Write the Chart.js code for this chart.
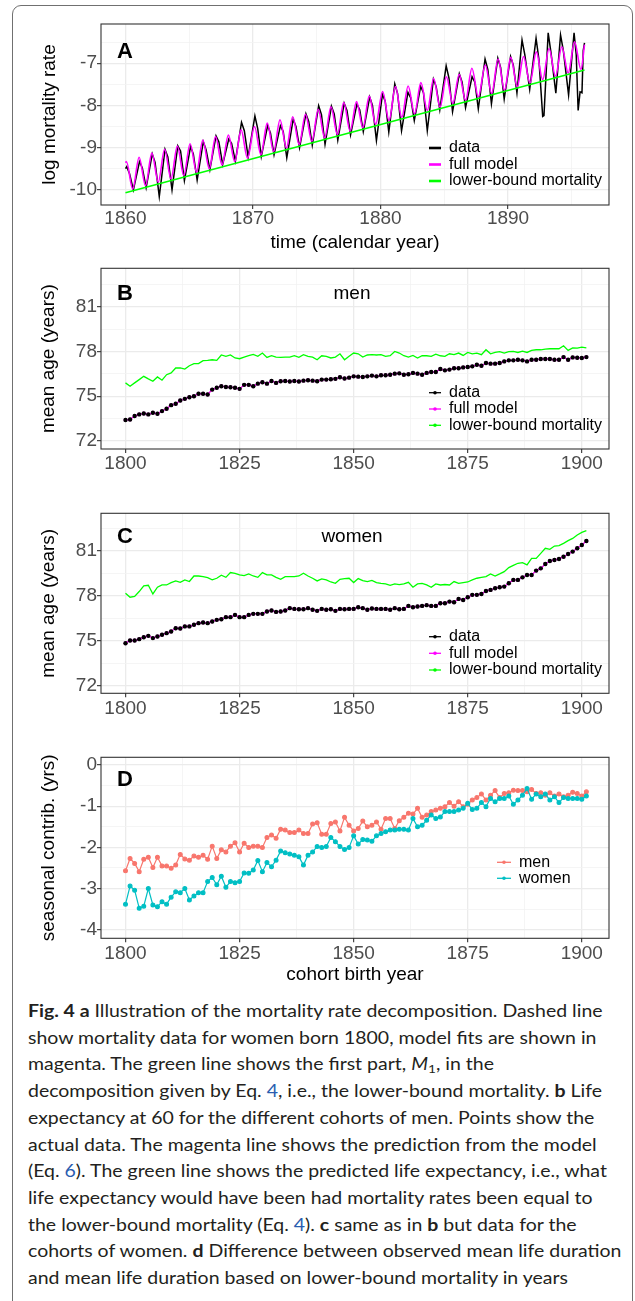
<!DOCTYPE html>
<html><head><meta charset="utf-8">
<script src="https://cdn.jsdelivr.net/npm/chart.js@4.4.1/dist/chart.umd.min.js"></script>
<style>
html,body{margin:0;padding:0;background:#fff;}
#page{position:relative;width:635px;height:1301px;overflow:hidden;background:#fff;}
#card{position:absolute;left:12px;top:5px;width:621px;height:1400px;border:1.5px solid #707070;border-radius:9px;box-sizing:border-box;}
canvas{position:absolute;left:0;}
#cap{position:absolute;left:28px;top:998px;font-family:Lato,'Open Sans',sans-serif;font-size:16.5px;line-height:26.7px;color:#231F20;transform-origin:0 0;}
.ln{white-space:nowrap;width:max-content;}
.lk{color:#2a5db0;}
sub{font-size:0.7em;line-height:0;vertical-align:-0.25em;}
</style></head>
<body>
<div id="page">
<div id="card"></div>
<canvas id="cA" width="635" height="262" style="top:0px"></canvas>
<canvas id="cB" width="635" height="215" style="top:260px"></canvas>
<canvas id="cC" width="635" height="220" style="top:500px"></canvas>
<canvas id="cD" width="635" height="250" style="top:740px"></canvas>
<div id="cap">
<div class="ln"><b>Fig. 4 a</b> Illustration of the mortality rate decomposition. Dashed line</div>
<div class="ln">show mortality data for women born 1800, model fits are shown in</div>
<div class="ln">magenta. The green line shows the first part, <i>M</i><sub>1</sub>, in the</div>
<div class="ln">decomposition given by Eq. <span class="lk">4</span>, i.e., the lower-bound mortality. <b>b</b> Life</div>
<div class="ln">expectancy at 60 for the different cohorts of men. Points show the</div>
<div class="ln">actual data. The magenta line shows the prediction from the model</div>
<div class="ln">(Eq. <span class="lk">6</span>). The green line shows the predicted life expectancy, i.e., what</div>
<div class="ln">life expectancy would have been had mortality rates been equal to</div>
<div class="ln">the lower-bound mortality (Eq. <span class="lk">4</span>). <b>c</b> same as in <b>b</b> but data for the</div>
<div class="ln">cohorts of women. <b>d</b> Difference between observed mean life duration</div>
<div class="ln">and mean life duration based on lower-bound mortality in years</div>
</div>
</div>
<script>
// ---------------- Panel A data ----------------
const aDataT = [1860.00,
1860.10,1860.32,1860.62, 1861.10,1861.32,1861.62, 1862.10,1862.32,1862.65, 1863.10,1863.32,1863.65,
1864.10,1864.32,1864.62, 1865.10,1865.32,1865.62, 1866.10,1866.32,1866.62, 1867.10,1867.32,1867.62,
1868.10,1868.32,1868.62, 1869.10,1869.32,1869.62, 1870.15,1870.37,1870.65, 1871.15,1871.37,1871.65,
1872.15,1872.37,1872.65, 1873.15,1873.37,1873.65, 1874.15,1874.37,1874.65, 1875.15,1875.37,1875.65,
1876.15,1876.37,1876.65, 1877.15,1877.37,1877.65, 1878.15,1878.37,1878.65, 1879.15,1879.37,1879.68,
1880.15,1880.37,1880.65, 1881.12,1881.34,1881.65, 1882.15,1882.37,1882.65, 1883.15,1883.37,1883.67,
1884.15,1884.37,1884.65, 1885.15,1885.37,1885.65, 1886.18,1886.40,1886.67, 1887.18,1887.40,1887.67,
1888.20,1888.42,1888.70, 1889.20,1889.42,1889.70, 1890.20,1890.42,1890.70, 1891.10,1891.32,1891.70,
1892.20,1892.42,1892.72,1892.82, 1893.15,1893.37,1893.75, 1894.12,1894.34,1894.75,
1895.18,1895.35,1895.50,1895.65,1895.80,1895.90,1896.00];
const aDataV = [-9.50,
-9.45,-9.62,-10.00, -9.33,-9.48,-9.95, -9.15,-9.35,-10.16, -9.04,-9.22,-10.00,
-8.96,-9.08,-9.78, -8.98,-9.15,-9.77, -8.86,-9.05,-9.52, -8.72,-8.86,-9.40,
-8.80,-8.90,-9.32, -8.40,-8.60,-9.22, -8.25,-8.55,-9.21, -8.48,-8.65,-9.17,
-8.48,-8.62,-9.24, -8.33,-8.50,-9.00, -8.20,-8.38,-8.94, -8.01,-8.22,-8.92,
-8.02,-8.20,-8.82, -7.95,-8.12,-8.70, -7.97,-8.10,-8.62, -7.80,-8.00,-8.83,
-7.74,-7.90,-8.63, -7.49,-7.72,-8.60, -7.69,-7.82,-8.36, -7.55,-7.70,-8.60,
-7.38,-7.56,-8.10, -7.06,-7.35,-8.15, -7.25,-7.45,-8.05, -7.32,-7.45,-8.08,
-6.90,-7.15,-7.96, -6.88,-7.10,-7.85, -6.84,-7.05,-7.70, -6.45,-6.80,-7.62,
-6.41,-6.90,-8.26,-8.24, -6.28,-6.75,-7.71, -6.33,-6.70,-7.75,
-6.28,-6.80,-8.12,-7.68,-7.70,-6.70,-6.52];
const aModelT = [1860.00, 1860.07,1860.57, 1861.07,1861.57, 1862.07,1862.57, 1863.07,1863.57, 1864.07,1864.57,
1865.07,1865.57, 1866.07,1866.57, 1867.07,1867.57, 1868.07,1868.57, 1869.07,1869.57, 1870.12,1870.62,
1871.12,1871.62, 1872.12,1872.62, 1873.12,1873.62, 1874.12,1874.62, 1875.12,1875.62, 1876.12,1876.62,
1877.12,1877.62, 1878.12,1878.62, 1879.12,1879.62, 1880.17,1880.67, 1881.17,1881.67, 1882.17,1882.67,
1883.17,1883.67, 1884.17,1884.67, 1885.17,1885.67, 1886.17,1886.67, 1887.17,1887.67, 1888.22,1888.72,
1889.22,1889.72, 1890.22,1890.72, 1891.22,1891.72, 1892.22,1892.72, 1893.22,1893.72, 1894.22,1894.72,
1895.22,1895.72, 1896.00];
const aModelV = [-9.36, -9.33,-9.98, -9.23,-9.90, -9.13,-9.82, -9.04,-9.74, -8.96,-9.66,
-8.91,-9.58, -8.82,-9.50, -8.74,-9.41, -8.70,-9.33, -8.58,-9.25, -8.50,-9.17,
-8.42,-9.09, -8.34,-9.01, -8.27,-8.93, -8.21,-8.85, -8.09,-8.77, -8.03,-8.69,
-7.93,-8.61, -7.91,-8.53, -7.78,-8.45, -7.67,-8.36, -7.55,-8.28, -7.54,-8.20,
-7.46,-8.12, -7.36,-8.04, -7.32,-7.96, -7.26,-7.88, -7.12,-7.80, -7.04,-7.72,
-6.90,-7.64, -6.86,-7.56, -6.84,-7.47, -6.73,-7.39, -6.65,-7.31, -6.61,-7.23,
-6.49,-7.15, -6.56];
const aLowerT = [1860.0, 1896.0];
const aLowerV = [-10.07, -7.16];

const aXTicks = [1860,1865,1870,1875,1880,1885,1890,1895];
const aXMajor = [1860,1870,1880,1890];
const aXLabels = ['1860','1870','1880','1890'];
const aYTicks = [-10,-9.5,-9,-8.5,-8,-7.5,-7,-6.5];
const aYMajor = [-10,-9,-8,-7];
const aYLabels = ['-10','-9','-8','-7'];

// ---------------- Cohort panels ----------------
const cohortYears = [1800,1801,1802,1803,1804,1805,1806,1807,1808,1809,1810,1811,1812,1813,1814,1815,1816,1817,1818,1819,
1820,1821,1822,1823,1824,1825,1826,1827,1828,1829,1830,1831,1832,1833,1834,1835,1836,1837,1838,1839,
1840,1841,1842,1843,1844,1845,1846,1847,1848,1849,1850,1851,1852,1853,1854,1855,1856,1857,1858,1859,
1860,1861,1862,1863,1864,1865,1866,1867,1868,1869,1870,1871,1872,1873,1874,1875,1876,1877,1878,1879,
1880,1881,1882,1883,1884,1885,1886,1887,1888,1889,1890,1891,1892,1893,1894,1895,1896,1897,1898,1899,1900,1901];

const menData = [73.40,73.44,73.67,73.78,73.84,73.78,73.89,73.82,74.00,74.16, 74.40,74.49,74.71,74.82,74.93,75.00,75.16,75.16,75.11,75.44,
75.56,75.67,75.62,75.60,75.56,75.49,75.76,75.76,75.67,75.84, 75.93,75.84,76.02,75.89,76.00,76.02,75.98,76.02,75.98,76.04,
76.07,76.04,76.00,76.11,76.11,76.13,76.16,76.27,76.18,76.24, 76.33,76.31,76.29,76.33,76.38,76.33,76.40,76.40,76.44,76.51,
76.53,76.44,76.47,76.56,76.51,76.44,76.56,76.62,76.62,76.82, 76.73,76.78,76.87,76.87,76.93,76.96,77.00,77.11,77.04,77.22,
77.18,77.18,77.22,77.33,77.40,77.40,77.44,77.40,77.33,77.44, 77.44,77.49,77.49,77.49,77.44,77.44,77.62,77.44,77.60,77.58,
77.56,77.62];
const menModel = [73.40,73.44,73.67,73.78,73.84,73.78,73.89,73.82,74.00,74.16, 74.40,74.49,74.71,74.82,74.93,75.00,75.16,75.16,75.11,75.44,
75.56,75.67,75.62,75.60,75.56,75.49,75.76,75.76,75.67,75.84, 75.93,75.84,76.02,75.89,76.00,76.02,75.98,76.02,75.98,76.04,
76.07,76.04,76.00,76.11,76.11,76.13,76.16,76.27,76.18,76.24, 76.33,76.31,76.29,76.33,76.38,76.33,76.40,76.40,76.44,76.51,
76.53,76.44,76.47,76.56,76.51,76.44,76.56,76.62,76.62,76.82, 76.73,76.78,76.87,76.87,76.93,76.96,77.00,77.11,77.04,77.22,
77.18,77.18,77.22,77.33,77.40,77.40,77.44,77.40,77.33,77.44, 77.44,77.49,77.49,77.49,77.44,77.44,77.62,77.44,77.60,77.58,
77.56,77.62];
const menLower = [75.89,75.67,75.89,76.11,76.33,76.16,76.00,76.29,76.07,76.44, 76.56,76.89,76.89,76.82,77.04,77.18,77.18,77.38,77.40,77.44,
77.40,77.76,77.67,77.76,77.56,77.51,77.62,77.71,77.80,77.67, 77.89,77.60,77.71,77.62,77.60,77.62,77.62,77.71,77.60,77.78,
77.67,77.62,77.44,77.71,77.67,77.56,77.62,77.84,77.44,77.67, 77.89,77.84,77.62,77.76,77.78,77.76,77.78,77.67,77.71,78.00,
77.89,77.71,77.62,77.73,77.56,77.71,77.71,77.67,77.82,77.71, 77.67,77.84,77.78,77.89,77.73,77.93,77.84,77.89,77.78,78.11,
77.84,77.93,77.98,77.89,77.98,78.00,77.93,78.02,77.93,78.07, 78.11,78.11,78.16,78.18,78.18,78.18,78.38,78.07,78.24,78.22,
78.29,78.24];

const womenData = [74.84,75.02,75.02,75.11,75.24,75.33,75.18,75.29,75.40,75.51, 75.62,75.84,75.82,75.96,75.96,76.07,76.18,76.22,76.18,76.29,
76.40,76.44,76.58,76.58,76.73,76.58,76.58,76.73,76.80,76.80, 76.80,76.96,77.02,76.93,76.96,77.02,77.18,77.13,77.11,77.11,
77.18,77.07,77.00,77.13,77.07,77.11,77.00,77.13,77.11,77.13, 77.13,77.24,77.18,77.07,77.16,77.13,77.13,77.13,77.07,77.18,
77.11,77.13,77.33,77.24,77.29,77.33,77.38,77.33,77.33,77.51, 77.51,77.62,77.58,77.80,77.73,77.91,78.07,78.07,78.13,78.33,
78.40,78.51,78.58,78.62,78.84,79.07,79.07,79.24,79.40,79.40, 79.69,79.84,80.13,80.33,80.40,80.47,80.62,80.80,80.96,81.18,
81.40,81.67];
const womenModel = [74.84,75.02,75.02,75.11,75.24,75.33,75.18,75.29,75.40,75.51, 75.62,75.84,75.82,75.96,75.96,76.07,76.18,76.22,76.18,76.29,
76.40,76.44,76.58,76.58,76.73,76.58,76.58,76.73,76.80,76.80, 76.80,76.96,77.02,76.93,76.96,77.02,77.18,77.13,77.11,77.11,
77.18,77.07,77.00,77.13,77.07,77.11,77.00,77.13,77.11,77.13, 77.13,77.24,77.18,77.07,77.16,77.13,77.13,77.13,77.07,77.18,
77.11,77.13,77.33,77.24,77.29,77.33,77.38,77.33,77.33,77.51, 77.51,77.62,77.58,77.80,77.73,77.91,78.07,78.07,78.13,78.33,
78.40,78.51,78.58,78.62,78.84,79.07,79.07,79.24,79.40,79.40, 79.69,79.84,80.13,80.33,80.40,80.47,80.62,80.80,80.96,81.18,
81.40,81.67];
const womenLower = [78.18,77.91,77.96,78.29,78.67,78.71,78.13,78.58,78.73,78.73, 78.89,79.00,78.91,79.07,78.96,79.33,79.33,79.29,79.22,79.07,
79.18,79.38,79.24,79.56,79.51,79.40,79.36,79.47,79.33,79.24, 79.56,79.40,79.40,79.24,79.11,79.29,79.29,79.29,79.33,79.51,
79.33,79.18,79.00,79.13,79.07,78.93,78.84,79.11,79.16,79.18, 78.89,79.16,79.02,78.96,79.04,78.89,78.84,78.80,78.71,78.80,
78.76,78.80,78.91,78.58,78.80,78.84,78.73,78.58,78.80,78.73, 78.76,78.73,78.96,78.84,78.89,78.93,79.07,79.18,79.24,79.29,
79.47,79.33,79.47,79.62,79.89,80.04,80.18,80.22,80.07,80.51, 80.51,80.84,81.18,81.11,81.33,81.36,81.51,81.69,81.84,82.07,
82.24,82.36];

const seasMen = [-2.57,-2.27,-2.39,-2.59,-2.29,-2.24,-2.49,-2.24,-2.45,-2.45, -2.51,-2.43,-2.17,-2.28,-2.31,-2.21,-2.24,-2.19,-2.29,-1.97,
-2.27,-2.06,-2.11,-1.97,-1.89,-2.11,-1.90,-2.00,-1.97,-1.97, -2.00,-1.76,-1.70,-1.78,-1.56,-1.58,-1.64,-1.64,-1.58,-1.66,
-1.66,-1.43,-1.40,-1.68,-1.68,-1.42,-1.38,-1.60,-1.27,-1.46, -1.60,-1.54,-1.36,-1.50,-1.46,-1.38,-1.56,-1.30,-1.30,-1.54,
-1.35,-1.27,-1.17,-1.19,-1.05,-1.27,-1.21,-1.13,-1.09,-1.05, -1.01,-0.91,-1.00,-0.89,-1.01,-0.95,-0.85,-0.79,-0.70,-0.85,
-0.73,-0.62,-0.79,-0.69,-0.67,-0.61,-0.62,-0.62,-0.65,-0.59, -0.69,-0.67,-0.73,-0.67,-0.75,-0.70,-0.77,-0.73,-0.66,-0.69,
-0.75,-0.65];
const seasWomen = [-3.38,-2.94,-3.04,-3.48,-3.43,-3.00,-3.40,-3.44,-3.32,-3.38, -3.21,-3.08,-3.10,-3.00,-3.28,-3.18,-3.10,-3.10,-2.83,-2.73,
-2.91,-2.70,-2.97,-2.83,-2.86,-2.83,-2.62,-2.63,-2.55,-2.32, -2.59,-2.37,-2.47,-2.31,-2.09,-2.13,-2.16,-2.19,-2.23,-2.43,
-2.19,-2.11,-1.98,-2.00,-1.98,-1.76,-1.86,-1.98,-2.05,-2.00, -1.72,-1.92,-1.81,-1.82,-1.85,-1.72,-1.66,-1.62,-1.58,-1.58,
-1.56,-1.56,-1.58,-1.30,-1.50,-1.46,-1.34,-1.21,-1.30,-1.26, -1.13,-1.13,-1.13,-1.09,-1.05,-0.93,-1.08,-1.05,-0.91,-1.01,
-0.81,-0.89,-0.81,-0.81,-0.75,-0.95,-0.85,-0.73,-0.57,-0.83, -0.70,-0.77,-0.70,-0.85,-0.77,-0.91,-0.79,-0.81,-0.81,-0.81,
-0.83,-0.75];

const cXTicks = [1800,1812.5,1825,1837.5,1850,1862.5,1875,1887.5,1900];
const cXMajor = [1800,1825,1850,1875,1900];
const cXLabels = ['1800','1825','1850','1875','1900'];
const ageYTicks = [72,73.5,75,76.5,78,79.5,81,82.5];
const ageYMajor = [72,75,78,81];
const ageYLabels = ['72','75','78','81'];
const sYTicks = [-4,-3.5,-3,-2.5,-2,-1.5,-1,-0.5,0];
const sYMajor = [-4,-3,-2,-1,0];
const sYLabels = ['-4','-3','-2','-1','0'];

// ---------------- helpers ----------------
const FONT = "'Liberation Sans', Arial, Helvetica, sans-serif";
Chart.defaults.font.family = FONT;
const zip = (xs, ys) => xs.map((x, i) => ({x: x, y: ys[i]}));

const decorPlugin = {
  id: 'decor',
  afterDatasetsDraw(chart, args, o) {
    if (!o || !o.letter) return;
    const ctx = chart.ctx, ca = chart.chartArea;
    ctx.save();
    ctx.strokeStyle = '#333333'; ctx.lineWidth = 1.1;
    ctx.strokeRect(ca.left, ca.top, ca.right - ca.left, ca.bottom - ca.top);
    ctx.fillStyle = '#000'; ctx.textAlign = 'left'; ctx.textBaseline = 'alphabetic';
    ctx.font = 'bold 22px ' + FONT;
    ctx.fillText(o.letter, o.letterX, o.letterY);
    if (o.sub) { ctx.font = '19px ' + FONT; ctx.textAlign = 'center'; ctx.fillText(o.sub, o.subX, o.subY); }
    const L = o.legend;
    L.order.forEach((di, i) => {
      const ds = chart.data.datasets[di];
      const y = L.rows[i];
      ctx.strokeStyle = ds.borderColor === 'transparent' ? ds.pointBackgroundColor : (ds.legendColor || ds.borderColor);
      ctx.lineWidth = L.lw;
      ctx.beginPath(); ctx.moveTo(L.x0, y); ctx.lineTo(L.x1, y); ctx.stroke();
      if (L.pr) { ctx.fillStyle = ds.legendColor || ds.borderColor; ctx.beginPath(); ctx.arc((L.x0 + L.x1) / 2, y, L.pr, 0, Math.PI * 2); ctx.fill(); }
      ctx.fillStyle = '#000'; ctx.font = '16px ' + FONT; ctx.textAlign = 'left'; ctx.textBaseline = 'middle';
      ctx.fillText(ds.label, L.tx, y);
    });
    ctx.restore();
  }
};
Chart.register(decorPlugin);

function axis(c) {
  // c: {ticks, major, labels, min, max, fit, title, titlePad, tickPad, horizontal}
  const isMajor = v => c.major.indexOf(v) >= 0;
  const ax = {
    type: 'linear', min: c.min, max: c.max,
    afterBuildTicks: s => { s.ticks = c.ticks.map(v => ({value: v})); },
    ticks: {
      autoSkip: false, maxRotation: 0, minRotation: 0, padding: c.tickPad,
      color: '#4D4D4D', font: {size: 19, lineHeight: 1},
      callback: v => { const i = c.major.indexOf(v); return i >= 0 ? c.labels[i] : ''; }
    },
    grid: {
      color: ctx => (ctx.tick && isMajor(ctx.tick.value)) ? '#EBEBEB' : '#F3F3F3',
      lineWidth: ctx => (ctx.tick && isMajor(ctx.tick.value)) ? 1.3 : 0.8,
      tickColor: ctx => (ctx.tick && isMajor(ctx.tick.value)) ? '#333333' : 'rgba(0,0,0,0)',
      tickLength: 4, tickWidth: 1.1, drawTicks: true, drawOnChartArea: true
    },
    border: {display: false},
    title: c.title ? {display: true, text: c.title, color: '#000', font: {size: 19, lineHeight: 1}, padding: c.titlePad} : {display: false},
    afterFit: s => {
      if (c.horizontal) { s.height = c.fit; s.paddingLeft = 0; s.paddingRight = 0; }
      else { s.width = c.fit; s.paddingTop = 0; s.paddingBottom = 0; }
    }
  };
  return ax;
}

function make(id, cfg) {
  return new Chart(document.getElementById(id), {
    type: 'line',
    data: {datasets: cfg.datasets},
    options: {
      responsive: false, animation: false, devicePixelRatio: 1,
      layout: {padding: {top: cfg.padTop, right: 26, left: 0, bottom: 0}},
      parsing: true,
      plugins: {legend: {display: false}, tooltip: {enabled: false}, decor: cfg.decor},
      scales: {x: cfg.x, y: cfg.y},
      elements: {point: {borderWidth: 0}}
    }
  });
}

// ---------------- Panel A ----------------
make('cA', {
  padTop: 24,
  x: axis({ticks: aXTicks, major: aXMajor, labels: aXLabels, min: 1858.08, max: 1897.92, fit: 57, horizontal: true,
            title: 'time (calendar year)', titlePad: {top: 0, bottom: 9.5}, tickPad: 0}),
  y: axis({ticks: aYTicks, major: aYMajor, labels: aYLabels, min: -10.36, max: -6.07, fit: 101,
            title: 'log mortality rate', titlePad: {top: 40.5, bottom: 0}, tickPad: 0}),
  datasets: [
    {label: 'lower-bound mortality', data: zip(aLowerT, aLowerV), borderColor: '#00FF00', borderWidth: 1.6, pointRadius: 0, order: 0},
    {label: 'full model', data: zip(aModelT, aModelV), borderColor: '#FF00FF', borderWidth: 1.6, pointRadius: 0, cubicInterpolationMode: 'monotone', order: 1},
    {label: 'data', data: zip(aDataT, aDataV), borderColor: '#000000', borderWidth: 1.5, pointRadius: 0, tension: 0, order: 2}
  ],
  decor: {letter: 'A', letterX: 117, letterY: 58.3,
          legend: {order: [2, 1, 0], rows: [148, 164.5, 181], x0: 429, x1: 441, tx: 449, lw: 2.6, pr: 0}}
});

// ---------------- Panel B ----------------
make('cB', {
  padTop: 8.3,
  x: axis({ticks: cXTicks, major: cXMajor, labels: cXLabels, min: 1794.63, max: 1905.96, fit: 26, horizontal: true, tickPad: 1.5}),
  y: axis({ticks: ageYTicks, major: ageYMajor, labels: ageYLabels, min: 71.46, max: 83.57, fit: 101,
            title: 'mean age (years)', titlePad: {top: 39.5, bottom: 0}, tickPad: 0}),
  datasets: [
    {label: 'data', data: zip(cohortYears, menData), borderColor: '#000000', legendColor: '#000000', showLine: false, pointRadius: 2.2, pointBackgroundColor: '#000000', order: 0},
    {label: 'full model', data: zip(cohortYears, menModel), borderColor: '#FF00FF', borderWidth: 1.3, pointRadius: 1.3, pointBackgroundColor: '#FF00FF', tension: 0, order: 1},
    {label: 'lower-bound mortality', data: zip(cohortYears, menLower), borderColor: '#00FF00', borderWidth: 1.3, pointRadius: 0, tension: 0, order: 2}
  ],
  decor: {letter: 'B', letterX: 117, letterY: 40, sub: 'men', subX: 352, subY: 38.5,
          legend: {order: [0, 1, 2], rows: [132.7, 149, 165.3], x0: 429, x1: 441, tx: 449, lw: 1.3, pr: 1.8}}
});

// ---------------- Panel C ----------------
make('cC', {
  padTop: 13.3,
  x: axis({ticks: cXTicks, major: cXMajor, labels: cXLabels, min: 1794.63, max: 1905.96, fit: 26.7, horizontal: true, tickPad: 1.5}),
  y: axis({ticks: ageYTicks, major: ageYMajor, labels: ageYLabels, min: 71.49, max: 83.52, fit: 101,
            title: 'mean age (years)', titlePad: {top: 39.5, bottom: 0}, tickPad: 0}),
  datasets: [
    {label: 'data', data: zip(cohortYears, womenData), borderColor: '#000000', legendColor: '#000000', showLine: false, pointRadius: 2.2, pointBackgroundColor: '#000000', order: 0},
    {label: 'full model', data: zip(cohortYears, womenModel), borderColor: '#FF00FF', borderWidth: 1.3, pointRadius: 1.3, pointBackgroundColor: '#FF00FF', tension: 0, order: 1},
    {label: 'lower-bound mortality', data: zip(cohortYears, womenLower), borderColor: '#00FF00', borderWidth: 1.3, pointRadius: 0, tension: 0, order: 2}
  ],
  decor: {letter: 'C', letterX: 117, letterY: 43.3, sub: 'women', subX: 352, subY: 42,
          legend: {order: [0, 1, 2], rows: [136.7, 153.3, 170], x0: 429, x1: 441, tx: 449, lw: 1.3, pr: 1.8}}
});

// ---------------- Panel D ----------------
make('cD', {
  padTop: 17.3,
  x: axis({ticks: cXTicks, major: cXMajor, labels: cXLabels, min: 1794.63, max: 1905.96, fit: 51.7, horizontal: true,
            title: 'cohort birth year', titlePad: {top: 0, bottom: 5.5}, tickPad: 1.5}),
  y: axis({ticks: sYTicks, major: sYMajor, labels: sYLabels, min: -4.21, max: 0.19, fit: 101,
            title: 'seasonal contrib. (yrs)', titlePad: {top: 39.5, bottom: 0}, tickPad: 0}),
  datasets: [
    {label: 'women', data: zip(cohortYears, seasWomen), borderColor: '#00BFC4', borderWidth: 1.2, pointRadius: 1.9, pointBackgroundColor: '#00BFC4', tension: 0, order: 0},
    {label: 'men', data: zip(cohortYears, seasMen), borderColor: '#F8766D', borderWidth: 1.2, pointRadius: 1.9, pointBackgroundColor: '#F8766D', tension: 0, order: 1}
  ],
  decor: {letter: 'D', letterX: 117, letterY: 45.7,
          legend: {order: [1, 0], rows: [122.3, 138.3], x0: 497, x1: 511, tx: 519, lw: 1.3, pr: 1.8}}
});

// ---------------- caption fitting ----------------
function fitCaption() {
  const cap = document.getElementById('cap');
  const lines = cap.querySelectorAll('.ln');
  const w1 = lines[0].getBoundingClientRect().width;
  const w10 = lines[9].getBoundingClientRect().width;
  const s = (577 / w1 + 591 / w10) / 2;
  cap.style.transform = 'scaleX(' + s.toFixed(4) + ')';
}
if (document.fonts && document.fonts.ready) { document.fonts.ready.then(fitCaption); } else { fitCaption(); }
</script>
</body></html>
